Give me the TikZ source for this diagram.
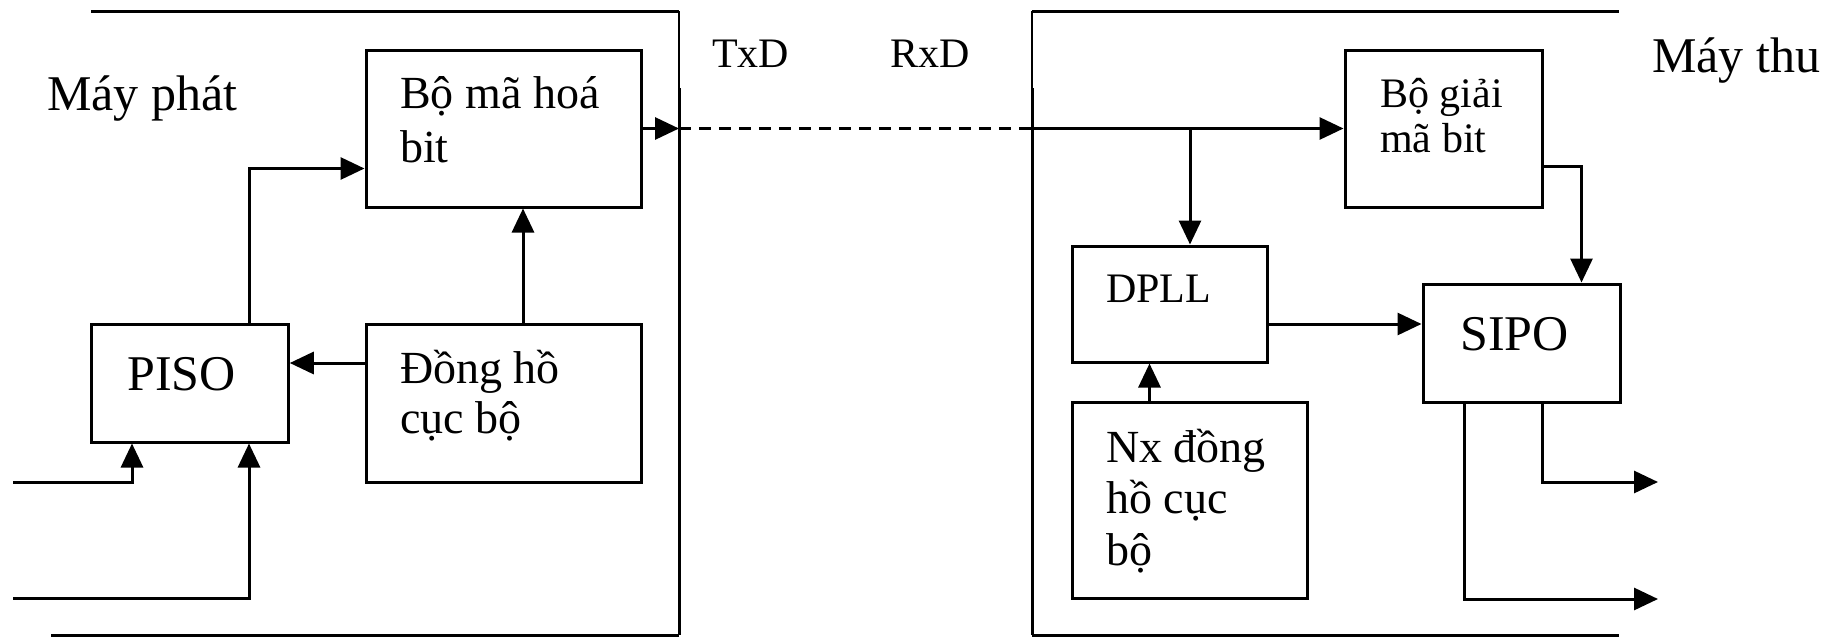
\documentclass[tikz,border=0pt]{standalone}
\usepackage{fontspec}
\setmainfont{Liberation Serif}
\usetikzlibrary{arrows.meta,calc}
\tikzset{
  blk/.style={draw, line width=3pt, inner sep=0pt, rectangle},
  arr/.style={line width=3pt, -{Triangle[length=24pt,width=22pt]}},
  wire/.style={line width=3pt},
  thinwire/.style={line width=1.5pt},
  lbl/.style={anchor=base west, inner sep=0pt, font=\fontsize{46}{52}\selectfont},
  lblbig/.style={anchor=base west, inner sep=0pt, font=\fontsize{50}{56}\selectfont},
  lblsm/.style={anchor=base west, inner sep=0pt, font=\fontsize{42}{48}\selectfont},
}
\begin{document}
\begin{tikzpicture}[x=1pt,y=-1pt]
\useasboundingbox (0,0) rectangle (1833,637);
% frames
\draw[wire] (91,11) -- (679,11);
\draw[thinwire] (679,11) -- (679,88);
\draw[wire] (679,88) -- (679,635);
\draw[wire] (51,635) -- (679,635);
\draw[wire] (1032,11) -- (1619,11);
\draw[thinwire] (1032,11) -- (1032,88);
\draw[wire] (1032,88) -- (1032,635);
\draw[wire] (1032,635) -- (1619,635);
% boxes
\node[blk, minimum width=275pt, minimum height=157pt] (enc) at (503.5,128.5) {};
\node[blk, minimum width=196.5pt, minimum height=118pt] (piso) at (190,383) {};
\node[blk, minimum width=275pt, minimum height=158pt] (clk) at (503.5,403) {};
\node[blk, minimum width=197pt, minimum height=157pt] (dec) at (1443.5,128.5) {};
\node[blk, minimum width=195pt, minimum height=116pt] (dpll) at (1169.5,304) {};
\node[blk, minimum width=197pt, minimum height=118pt] (sipo) at (1521.5,343) {};
\node[blk, minimum width=235pt, minimum height=196pt] (nx) at (1189.5,500) {};
% labels
\node[lblbig] (lmp) at (47,110) {Máy phát};
\node[lblbig] (lmt) at (1652,72) {Máy thu};
\node[lblsm] (ltx) at (712,67) {TxD};
\node[lblsm] (lrx) at (890,67) {RxD};
\node[lbl] (le1) at (400,108) {Bộ mã hoá};
\node[lbl] (le2) at (400,162) {bit};
\node[lbl] (lc1) at (400,383) {Đồng hồ};
\node[lbl] (lc2) at (400,433) {cục bộ};
\node[lblbig] (lp) at (127,390) {PISO};
\node[lblsm] (ld1) at (1380,107) {Bộ giải};
\node[lblsm] (ld2) at (1380,152) {mã bit};
\node[lblsm] (ldp) at (1106,302) {DPLL};
\node[lblbig] (ls) at (1460,350) {SIPO};
\node[lbl] (ln1) at (1106,462) {Nx đồng};
\node[lbl] (ln2) at (1106,513) {hồ cục};
\node[lbl] (ln3) at (1106,565) {bộ};
% coordinates
\coordinate (txd) at (679,128.5);
\coordinate (rxd) at (1032,128.5);
\coordinate (br) at (1190,128.5);
\coordinate (in1) at (13,482);
\coordinate (in2) at (13,598);
\coordinate (out1) at (1658,482);
\coordinate (out2) at (1658,599);
% connectors
\draw[arr] (enc.east) -- (txd);
\draw[wire, dash pattern=on 12pt off 8pt] (txd) -- (rxd);
\draw[arr] (rxd) -- (dec.west);
\draw[arr] (br) -- (br |- dpll.north);
\draw[arr] ([yshift=-20pt]dpll.east) -- ([yshift=-20pt]dpll.east -| sipo.west);
\draw[arr] ([yshift=-38pt]dec.east) -| ([xshift=60pt]sipo.north);
\draw[arr] ([xshift=-40pt]nx.north) -- ([xshift=-40pt]nx.north |- dpll.south);
\draw[arr] ([xshift=20.5pt]sipo.south) |- (out1);
\draw[arr] ([xshift=-57.5pt]sipo.south) |- (out2);
\draw[arr] ([yshift=40pt]clk.west) -- ([yshift=40pt]clk.west -| piso.east);
\draw[arr] ([xshift=19.5pt]clk.north) -- ([xshift=19.5pt]clk.north |- enc.south);
\draw[arr] ([xshift=59pt]piso.north) |- ([yshift=-40pt]enc.west);
\draw[arr] (in1) -| ([xshift=-58pt]piso.south);
\draw[arr] (in2) -| ([xshift=59pt]piso.south);
\end{tikzpicture}
\end{document}
